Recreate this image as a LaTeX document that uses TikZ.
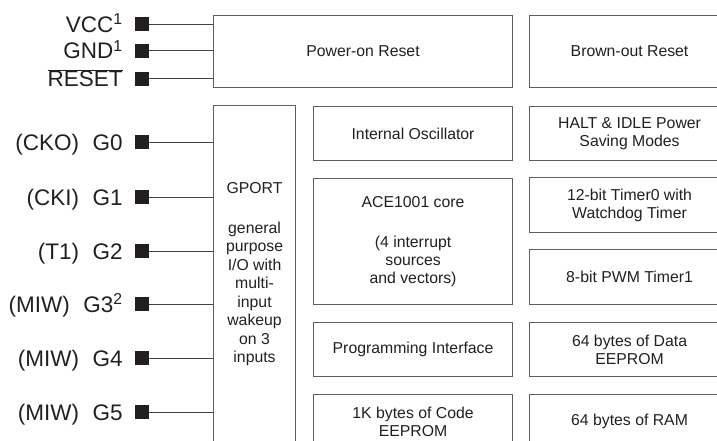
\documentclass[tikz,border=0pt]{standalone}
\usepackage{fontspec}
\setmainfont{Liberation Sans}
\usepackage{xcolor}
\usepackage{tikz}
\usetikzlibrary{positioning,calc}

\definecolor{boxgray}{HTML}{5E5E5E}
\definecolor{inkdark}{HTML}{231F20}

\tikzset{
  blk/.style={draw=boxgray, line width=1.1pt, anchor=north west, align=center,
    inner sep=2pt, text=inkdark, font=\fontsize{15.8}{18}\selectfont},
  padsq/.style={fill=inkdark, minimum size=14pt, inner sep=0pt},
  pinlbl/.style={anchor=base east, inner sep=0pt, text=inkdark,
    font=\fontsize{22.5}{24}\selectfont},
  wire/.style={draw=inkdark!85, line width=1pt}
}

\begin{document}
\begin{tikzpicture}[x=1pt,y=-1pt]
	\useasboundingbox (0,0) rectangle (717,441);
	\clip (0,0) rectangle (717,441);
	
	% Row 1: reset blocks
	\node[blk, minimum width=299pt, minimum height=72pt] (por) at (213,15) {Power-on Reset};
	\node[blk, minimum width=200pt, minimum height=72pt] (bor) at (529,15) {Brown-out Reset};
	
	% GPORT column
	\node[blk, minimum width=82pt, minimum height=338pt, font=\fontsize{15.8}{18.5}\selectfont] (gport) at (213,105)
		{GPORT\\[21pt]general\\purpose\\I/O with\\multi-\\input\\wakeup\\on 3\\inputs};
	
	% middle column
	\node[blk, minimum width=199pt, minimum height=54pt] (osc) at (313,106) {Internal Oscillator};
	\node[blk, minimum width=199pt, minimum height=126pt] (core) at (313,178)
		{ACE1001 core\\[22pt](4 interrupt\\sources\\and vectors)};
	\node[blk, minimum width=199pt, minimum height=54pt] (prog) at (313,322) {Programming Interface};
	\node[blk, minimum width=199pt, minimum height=54pt] (code) at (313,394) {1K bytes of Code\\EEPROM};
	
	% right column
	\node[blk, minimum width=200pt, minimum height=54pt] (halt) at (529,106) {HALT \& IDLE Power\\Saving Modes};
	\node[blk, minimum width=200pt, minimum height=55pt] (tmrz) at (529,177) {12-bit Timer0 with\\Watchdog Timer};
	\node[blk, minimum width=200pt, minimum height=55pt] (tmro) at (529,249) {8-bit PWM Timer1};
	\node[blk, minimum width=200pt, minimum height=54pt] (data) at (529,322) {64 bytes of Data\\EEPROM};
	\node[blk, minimum width=200pt, minimum height=54pt] (ram) at (529,394) {64 bytes of RAM};
	
	% pads
	\foreach \pd/\py in {vcc/24.5, gnd/51, rst/79, gz/142, ga/197, gb/251, gc/304, gd/358, ge/412}
		\node[padsq] (\pd) at (142,\py) {};
	
	% pad labels
	\node[pinlbl] (vcclbl) at ([shift={(-12pt,-8pt)}]vcc.west) {VCC\textsuperscript{1}};
	\node[pinlbl] (gndlbl) at ([shift={(-12pt,-8pt)}]gnd.west) {GND\textsuperscript{1}};
	\node[pinlbl] (rstlbl) at ([shift={(-12pt,-8pt)}]rst.west) {$\overline{\mbox{RESET}}$};
	\node[pinlbl] (gzlbl) at ([shift={(-12pt,-8pt)}]gz.west) {(CKO)\hspace{0.6em}G0};
	\node[pinlbl] (galbl) at ([shift={(-12pt,-8pt)}]ga.west) {(CKI)\hspace{0.6em}G1};
	\node[pinlbl] (gblbl) at ([shift={(-12pt,-8pt)}]gb.west) {(T1)\hspace{0.6em}G2};
	\node[pinlbl] (gclbl) at ([shift={(-12pt,-8pt)}]gc.west) {(MIW)\hspace{0.6em}G3\textsuperscript{2}};
	\node[pinlbl] (gdlbl) at ([shift={(-12pt,-8pt)}]gd.west) {(MIW)\hspace{0.6em}G4};
	\node[pinlbl] (gelbl) at ([shift={(-12pt,-8pt)}]ge.west) {(MIW)\hspace{0.6em}G5};
	
	% wires
	\foreach \pd in {vcc, gnd, rst}
		\draw[wire] (\pd) -- (\pd -| por.west);
	\foreach \pd in {gz, ga, gb, gc, gd, ge}
		\draw[wire] (\pd) -- (\pd -| gport.west);
\end{tikzpicture}
\end{document}
